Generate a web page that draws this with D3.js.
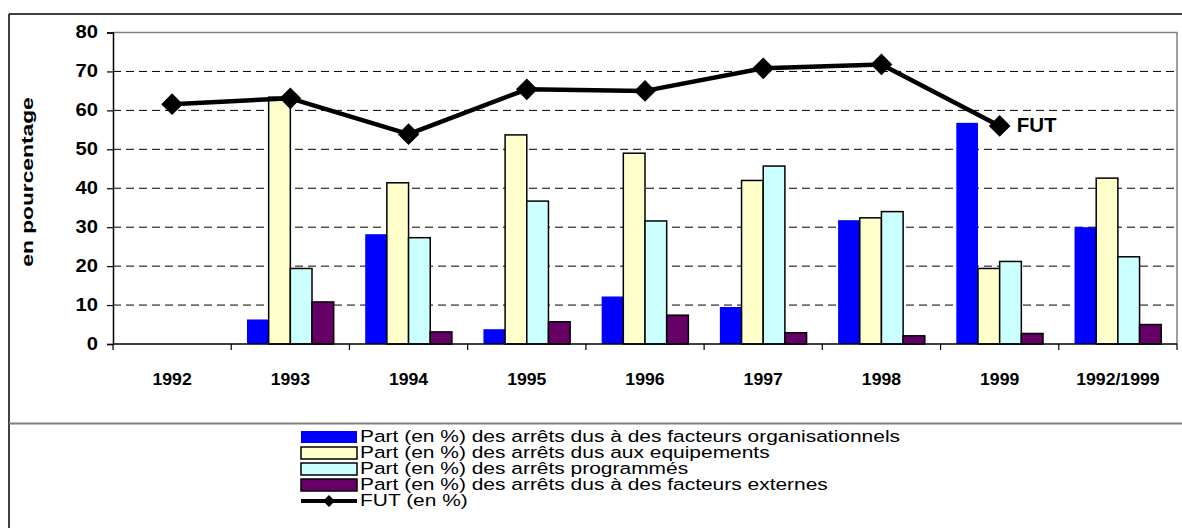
<!DOCTYPE html>
<html>
<head>
<meta charset="utf-8">
<script src="https://cdn.jsdelivr.net/npm/d3@7"></script>
<style>
  html, body { margin: 0; padding: 0; background: #fff; }
  svg { display: block; font-family: "Liberation Sans", Arial, sans-serif; }
</style>
</head>
<body>
<svg id="chart" width="1182" height="528"></svg>
<script>
// Années (catégories de l'axe X)
const categories = ["1992", "1993", "1994", "1995", "1996", "1997", "1998", "1999", "1992/1999"];

// Part (en %) des arrêts par cause
const organisationnels = [0, 6.3, 28.2, 3.8, 12.2, 9.5, 31.8, 56.8, 30.0];
const equipements      = [0, 63.4, 41.4, 53.7, 49.0, 42.0, 32.4, 19.4, 42.6];
const programmes       = [0, 19.4, 27.3, 36.7, 31.6, 45.7, 34.0, 21.2, 22.4];
const externes         = [0, 10.8, 3.1, 5.7, 7.4, 2.9, 2.1, 2.7, 5.0];

// FUT (en %) — pas de valeur pour la période 1992/1999
const fut = [61.6, 63.1, 53.9, 65.4, 65.0, 70.8, 71.8, 56.0, null];

const yTicks = [0, 10, 20, 30, 40, 50, 60, 70, 80];

const seriesNames = [
  "Part (en %) des arrêts dus à des facteurs organisationnels",
  "Part (en %) des arrêts dus aux equipements",
  "Part (en %) des arrêts programmés",
  "Part (en %) des arrêts dus à des facteurs externes"
];
const futName = "FUT (en %)";

const seriesValues = [organisationnels, equipements, programmes, externes];
const seriesFill = ["#0000FF", "#FFFFCC", "#CCFFFF", "#660066"];
const seriesStroke = ["none", "#000", "#000", "#000"];

const svg = d3.select("#chart");

// Texte étiré horizontalement (police large)
function wideText(parent, px, py, str, size, sx, opts = {}) {
  return parent.append("text")
    .attr("transform", `translate(${px},${py}) rotate(${opts.rotate || 0}) scale(${sx},1)`)
    .attr("text-anchor", opts.anchor || "start")
    .attr("dominant-baseline", opts.baseline || "middle")
    .attr("font-size", size)
    .attr("font-weight", opts.weight || "normal")
    .attr("fill", "#000")
    .text(str);
}

// Cadre général du graphique
const frame = svg.append("g");
frame.append("line").attr("x1", 9).attr("x2", 1182).attr("y1", 14).attr("y2", 14)
  .attr("stroke", "#000").attr("stroke-width", 1.5);
frame.append("line").attr("x1", 9).attr("x2", 9).attr("y1", 14).attr("y2", 528)
  .attr("stroke", "#000").attr("stroke-width", 1.5);
frame.append("line").attr("x1", 9).attr("x2", 1182).attr("y1", 423.5).attr("y2", 423.5)
  .attr("stroke", "#808080").attr("stroke-width", 2);

// Zone de tracé
const plot = { left: 113, right: 1177, top: 32.5, bottom: 344 };

const x = d3.scaleBand().domain(categories).range([plot.left, plot.right]).padding(0);
const xs = d3.scaleBand().domain(d3.range(4)).range([0, x.bandwidth()])
  .paddingInner(0).paddingOuter(0.727);
const y = d3.scaleLinear().domain([0, 80]).range([plot.bottom, plot.top]);

// Lignes de quadrillage pointillées
svg.append("g").selectAll("line")
  .data(yTicks.filter(t => t > 0 && t < 80))
  .join("line")
  .attr("x1", plot.left).attr("x2", plot.right)
  .attr("y1", d => y(d)).attr("y2", d => y(d))
  .attr("stroke", "#000").attr("stroke-width", 1)
  .attr("stroke-dasharray", "8,5");

// Bordure haute et droite de la zone de tracé
svg.append("path")
  .attr("d", `M${plot.left},${y(80)}H${plot.right}V${plot.bottom}`)
  .attr("fill", "none").attr("stroke", "#808080").attr("stroke-width", 1.5);

// Barres
const groups = svg.append("g").selectAll("g")
  .data(categories)
  .join("g")
  .attr("transform", d => `translate(${x(d)},0)`);

groups.selectAll("rect")
  .data((c, i) => seriesValues.map((vals, s) => ({ s, v: vals[i] })).filter(d => d.v > 0))
  .join("rect")
  .attr("x", d => xs(d.s))
  .attr("width", xs.bandwidth())
  .attr("y", d => y(d.v))
  .attr("height", d => y(0) - y(d.v))
  .attr("fill", d => seriesFill[d.s])
  .attr("stroke", d => seriesStroke[d.s])
  .attr("stroke-width", 1.5);

// Axe Y (trait et graduations)
const yAxis = d3.axisLeft(y).tickValues(yTicks).tickSize(6).tickFormat("");
const gy = svg.append("g").attr("transform", `translate(${plot.left},0)`).call(yAxis);
gy.select(".domain").attr("stroke", "#000").attr("stroke-width", 1.5);
gy.selectAll(".tick line").attr("stroke", "#000").attr("stroke-width", 1.2);
gy.selectAll(".tick text").remove();

// Libellés de l'axe Y
const yLab = svg.append("g");
yTicks.forEach(t => {
  wideText(yLab, 98, y(t) + 1, String(t), 18, 1.12, { anchor: "end", weight: "bold" });
});

// Axe X : graduations entre les catégories
const gx = svg.append("g");
gx.append("line").attr("x1", plot.left).attr("x2", plot.right)
  .attr("y1", plot.bottom).attr("y2", plot.bottom)
  .attr("stroke", "#000").attr("stroke-width", 1.5);
gx.selectAll("line.tk")
  .data(categories.map(c => x(c)).concat([x(categories[categories.length - 1]) + x.bandwidth()]))
  .join("line").attr("class", "tk")
  .attr("x1", d => d).attr("x2", d => d)
  .attr("y1", plot.bottom).attr("y2", plot.bottom + 6)
  .attr("stroke", "#000").attr("stroke-width", 1.2);
categories.forEach(c => {
  wideText(gx, x(c) + x.bandwidth() / 2, 381, c, 16.5, 1.07, { anchor: "middle", weight: "bold" });
});

// Titre de l'axe Y
wideText(svg, 33, 182, "en pourcentage", 16.5, 1.38,
  { anchor: "middle", weight: "bold", rotate: -90, baseline: "auto" });

// Courbe FUT
const futPts = categories.map((c, i) => ({ c, v: fut[i] })).filter(d => d.v !== null);
const line = d3.line().x(d => x(d.c) + x.bandwidth() / 2).y(d => y(d.v));
svg.append("path").datum(futPts)
  .attr("d", line).attr("fill", "none")
  .attr("stroke", "#000").attr("stroke-width", 4.5).attr("stroke-linejoin", "round");

const diamond = d3.symbol().type(d3.symbolDiamond2).size(300);
svg.append("g").selectAll("path")
  .data(futPts)
  .join("path")
  .attr("transform", d => `translate(${x(d.c) + x.bandwidth() / 2},${y(d.v)})`)
  .attr("d", diamond)
  .attr("fill", "#000");

// Étiquette de fin de courbe
const last = futPts[futPts.length - 1];
wideText(svg, x(last.c) + x.bandwidth() / 2 + 17, y(last.v) + 1, "FUT", 19.5, 1.05, { weight: "bold" });

// Légende
const legend = svg.append("g");
const lgX = 301, lgW = 56, lgY0 = 437, lgStep = 16;
seriesNames.forEach((name, s) => {
  const cy = lgY0 + s * lgStep;
  legend.append("rect")
    .attr("x", lgX).attr("y", cy - 6).attr("width", lgW).attr("height", 12)
    .attr("fill", seriesFill[s])
    .attr("stroke", seriesStroke[s]).attr("stroke-width", 1.5);
  wideText(legend, lgX + lgW + 3, cy + 1, name, 16.5, 1.27);
});
const futY = lgY0 + 4 * lgStep;
legend.append("line")
  .attr("x1", lgX).attr("x2", lgX + lgW).attr("y1", futY).attr("y2", futY)
  .attr("stroke", "#000").attr("stroke-width", 4);
legend.append("path")
  .attr("transform", `translate(${lgX + lgW / 2},${futY})`)
  .attr("d", d3.symbol().type(d3.symbolDiamond2).size(90))
  .attr("fill", "#000");
wideText(legend, lgX + lgW + 3, futY + 1, futName, 16.5, 1.27);
</script>
</body>
</html>
